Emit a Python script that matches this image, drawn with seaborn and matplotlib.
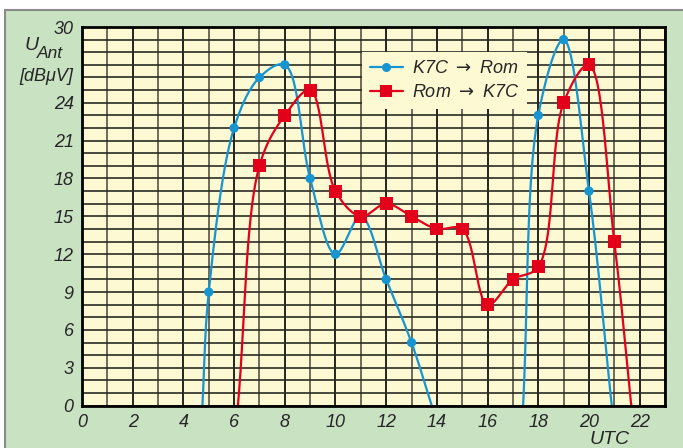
import numpy as np
import matplotlib
matplotlib.use("Agg")
import matplotlib.pyplot as plt
from matplotlib.lines import Line2D
from matplotlib.ticker import MultipleLocator
import seaborn as sns

# values (UTC hour, dBuV)
k7c_x = [5, 6, 7, 8, 9, 10, 11, 12, 13, 18, 19, 20]
k7c_y = [9, 22, 26, 27, 18, 12, 15, 10, 5, 23, 29, 17]
# where the blue curve meets the bottom edge
k7c_zero_a = [4.75, 13.8]
k7c_zero_b = [17.4, 20.9]

rom_x = [7, 8, 9, 10, 11, 12, 13, 14, 15, 16, 17, 18, 19, 20, 21]
rom_y = [19, 23, 25, 17, 15, 16, 15, 14, 14, 8, 10, 11, 24, 27, 13]
rom_zero = [6.15, 21.67]

x_ticks = list(range(0, 23, 2))
y_ticks = [0, 3, 6, 9, 12, 15, 18, 21, 24, 30]

BLUE = "#1695d0"
RED = "#e2001a"
GREEN = "#c8e2c2"
YELLOW = "#fdf9d3"
FONT = ["Liberation Sans Narrow", "Liberation Sans", "DejaVu Sans"]


def smooth(xs, ys, n=30, k=0.5):
    # centripetal Catmull-Rom, only used to draw the curve between read points
    p = np.column_stack([xs, np.asarray(ys, float) * k])
    p = np.vstack([2 * p[0] - p[1], p, 2 * p[-1] - p[-2]])
    out = []
    for i in range(1, len(p) - 2):
        p0, p1, p2, p3 = p[i - 1], p[i], p[i + 1], p[i + 2]
        t0 = 0.0
        t1 = t0 + np.linalg.norm(p1 - p0) ** 0.5
        t2 = t1 + np.linalg.norm(p2 - p1) ** 0.5
        t3 = t2 + np.linalg.norm(p3 - p2) ** 0.5
        t = np.linspace(t1, t2, n)[:, None]
        a1 = (t1 - t) / (t1 - t0) * p0 + (t - t0) / (t1 - t0) * p1
        a2 = (t2 - t) / (t2 - t1) * p1 + (t - t1) / (t2 - t1) * p2
        a3 = (t3 - t) / (t3 - t2) * p2 + (t - t2) / (t3 - t2) * p3
        b1 = (t2 - t) / (t2 - t0) * a1 + (t - t0) / (t2 - t0) * a2
        b2 = (t3 - t) / (t3 - t1) * a2 + (t - t1) / (t3 - t1) * a3
        c = (t2 - t) / (t2 - t1) * b1 + (t - t1) / (t2 - t1) * b2
        out.append(c)
    c = np.vstack(out)
    return c[:, 0], c[:, 1] / k


sns.set_style("white")
plt.rcParams["font.family"] = FONT
plt.rcParams["font.style"] = "italic"

W, H = 683, 448
fig = plt.figure(figsize=(W / 100, H / 100), dpi=100, facecolor="white")
fig.patches.append(plt.Rectangle((5 / W, 0), 1, 1 - 10 / H, transform=fig.transFigure,
                                 facecolor=GREEN, edgecolor="none", zorder=-5))
fig.lines.append(Line2D([5 / W, 1], [1 - 10 / H] * 2, transform=fig.transFigure,
                        color="#8a8a8a", lw=1.5, zorder=-4))
fig.lines.append(Line2D([5 / W] * 2, [0, 1 - 10 / H], transform=fig.transFigure,
                        color="#8a8a8a", lw=1.5, zorder=-4))

ax = fig.add_axes([82 / W, (H - 405.7) / H, 583 / W, 378.7 / H])
ax.set_zorder(1)
ax.set_facecolor(YELLOW)

# curves
bx = [k7c_zero_a[0]] + k7c_x[:9] + [k7c_zero_a[1]]
by = [0] + k7c_y[:9] + [0]
sx, sy = smooth(bx, by)
ax.plot(sx, sy, color=BLUE, lw=1.6, zorder=3)
bx = [k7c_zero_b[0]] + k7c_x[9:] + [k7c_zero_b[1]]
by = [0] + k7c_y[9:] + [0]
sx, sy = smooth(bx, by)
ax.plot(sx, sy, color=BLUE, lw=1.6, zorder=3)

rx = [rom_zero[0]] + rom_x + [rom_zero[1]]
ry = [0] + rom_y + [0]
sx, sy = smooth(rx, ry)
ax.plot(sx, sy, color=RED, lw=1.6, zorder=3)

sns.scatterplot(x=k7c_x, y=k7c_y, ax=ax, color=BLUE, marker="o", s=45,
                edgecolor="none", zorder=4, legend=False)
sns.scatterplot(x=rom_x, y=rom_y, ax=ax, color=RED, marker="s", s=85,
                edgecolor="none", zorder=4, legend=False)

ax.set_xlim(0, 23)
ax.set_ylim(0, 30)
ax.xaxis.set_minor_locator(MultipleLocator(1))
ax.yaxis.set_minor_locator(MultipleLocator(1))
ax.set_xticks(x_ticks)
ax.set_yticks(y_ticks)
ax.grid(True, which="major", axis="x", color="black", lw=1.2)
ax.grid(True, which="minor", axis="x", color="#6f6b5a", lw=1.4)
ax.grid(True, which="both", axis="y", color="#2b2b24", lw=1.2)
ax.set_axisbelow(True)
ax.tick_params(which="both", length=0, labelsize=13)
ax.tick_params(axis="x", pad=6)
ax.tick_params(axis="y", pad=6)
for s in ax.spines.values():
    s.set_color("black")
    s.set_linewidth(2)
    s.set_zorder(5)

handles = [
    Line2D([], [], color=BLUE, lw=1.6, marker="o", markersize=6.5, markeredgewidth=0),
    Line2D([], [], color=RED, lw=1.6, marker="s", markersize=9, markeredgewidth=0),
]
leg = ax.legend(handles, [r"K7C $\rightarrow$ Rom", r"Rom $\rightarrow$ K7C"],
                loc="upper left",
                bbox_to_anchor=((362 - 82) / 583, (405.7 - 52) / 378.7),
                borderaxespad=0, frameon=True, fancybox=False, framealpha=1,
                facecolor=YELLOW, edgecolor="none", fontsize=13,
                handlelength=1.8, handletextpad=0.5, labelspacing=0.4,
                borderpad=0.45)
leg.set_zorder(6)

fig.text(25 / W, 1 - 45 / H, "U", fontsize=14, ha="left", va="center")
fig.text(37 / W, 1 - 54 / H, "Ant", fontsize=12.5, ha="left", va="center")
fig.text(73 / W, 1 - 76 / H, "[dB\u03bcV]", fontsize=13, ha="right", va="center")
fig.text(610 / W, 1 - 439 / H, "UTC", fontsize=14, ha="center", va="center")

fig.savefig("out.png", dpi=100, facecolor=fig.get_facecolor())
